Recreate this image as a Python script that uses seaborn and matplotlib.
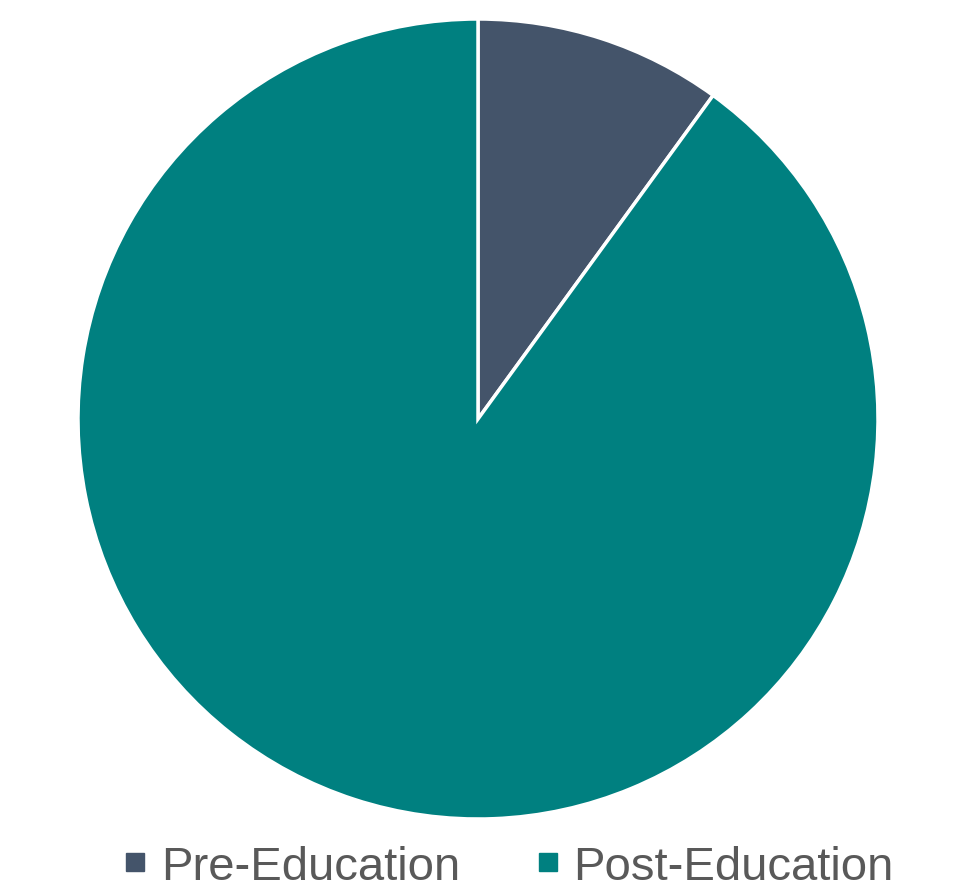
import matplotlib
matplotlib.use("Agg")
import matplotlib.pyplot as plt
from matplotlib.lines import Line2D
import seaborn as sns

# data
labels = ["Pre-Education", "Post-Education"]
values = [10, 90]
colors = ["#44546A", "#008080"]

sns.set_theme(style="white")
plt.rcParams['font.family'] = ['Liberation Sans', 'DejaVu Sans']

fig = plt.figure(figsize=(9.59, 8.95), dpi=100)
ax = fig.add_axes([78 / 959, 75 / 895, 800 / 959, 800 / 895])

ax.pie(values, colors=colors, startangle=90, counterclock=False,
       wedgeprops=dict(edgecolor="white", linewidth=2.5))
ax.set_xlim(-1, 1)
ax.set_ylim(-1, 1)
ax.set_aspect("equal")
ax.axis("off")

# legend with small square markers
handles = [Line2D([0], [0], marker="s", linestyle="", markersize=13,
                  markerfacecolor=c, markeredgecolor=c) for c in colors]
fig.legend(handles, labels, loc="center", bbox_to_anchor=(0.529, 1 - 868 / 895),
           ncol=2, frameon=False, fontsize=34, labelcolor="#595959",
           handletextpad=0.25, columnspacing=1.55, handlelength=0.6)

fig.savefig("out.png", dpi=100, facecolor="white")
